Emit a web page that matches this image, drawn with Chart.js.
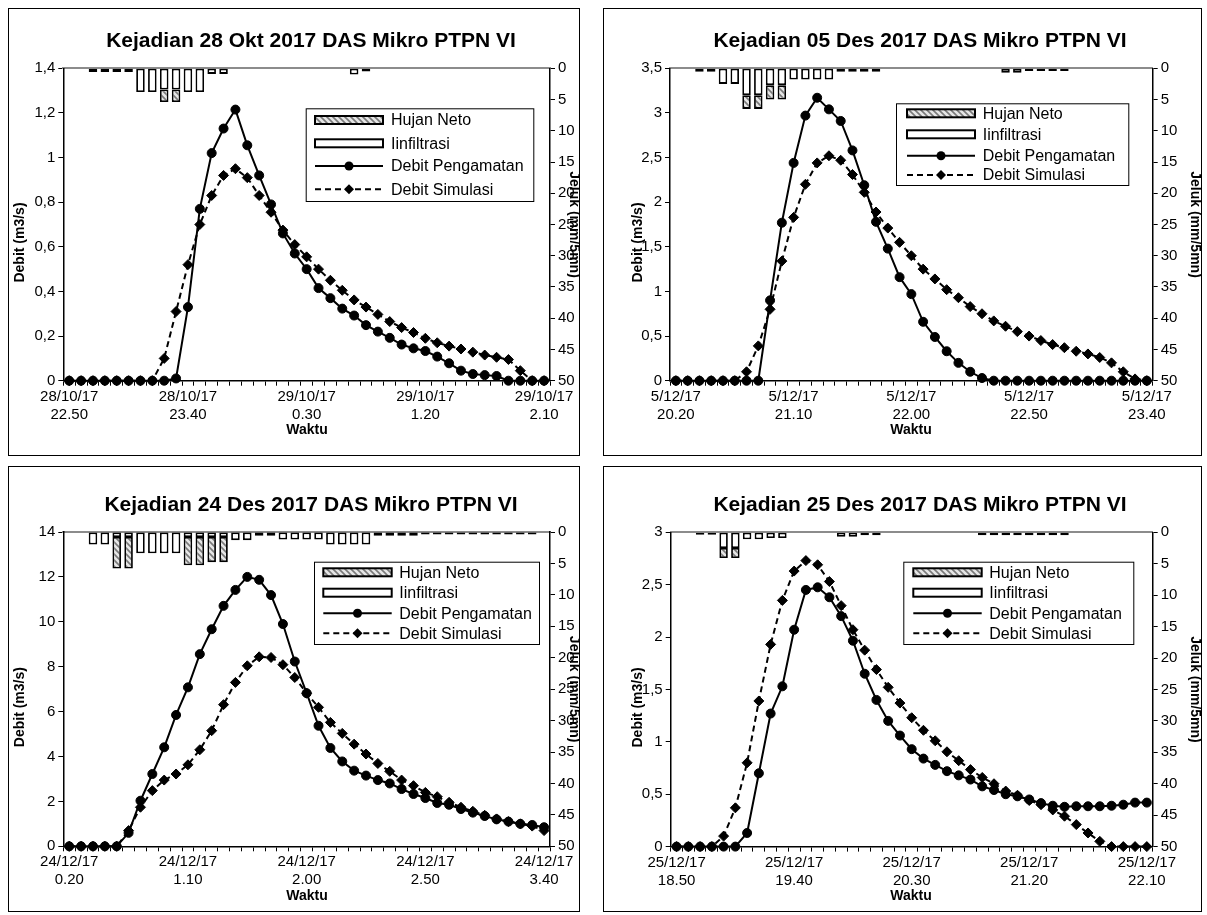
<!DOCTYPE html>
<html><head><meta charset="utf-8">
<script src="https://cdn.jsdelivr.net/npm/chart.js@4.4.1/dist/chart.umd.min.js"></script>
<style>
html,body{margin:0;padding:0;background:#fff;}
body{width:1207px;height:915px;position:relative;overflow:hidden;font-family:'Liberation Sans',Arial,sans-serif;}
.box{position:absolute;border:1px solid #000;box-sizing:border-box;pointer-events:none;}
canvas{position:absolute;}
</style></head><body>
<script>
// ---------------- DATA ----------------
const times1 = ["22.50","22.55","23.00","23.05","23.10","23.15","23.20","23.25","23.30","23.35","23.40","23.45","23.50","23.55","0.00","0.05","0.10","0.15","0.20","0.25","0.30","0.35","0.40","0.45","0.50","0.55","1.00","1.05","1.10","1.15","1.20","1.25","1.30","1.35","1.40","1.45","1.50","1.55","2.00","2.05","2.10"];
const tickDates1 = ["28/10/17","28/10/17","29/10/17","29/10/17","29/10/17"];
const tickTimes1 = ["22.50","23.40","0.30","1.20","2.10"];
const obs1 = [0,0,0,0,0,0,0,0,0,0.01,0.33,0.77,1.02,1.13,1.215,1.055,0.92,0.79,0.66,0.57,0.50,0.415,0.37,0.323,0.292,0.249,0.22,0.192,0.162,0.145,0.133,0.108,0.078,0.045,0.03,0.025,0.021,0,0,0,0];
const sim1 = [0,0,0,0,0,0,0,0,0.10,0.31,0.52,0.70,0.83,0.92,0.95,0.91,0.83,0.755,0.675,0.61,0.555,0.50,0.45,0.405,0.362,0.33,0.297,0.265,0.238,0.216,0.19,0.17,0.155,0.142,0.128,0.115,0.105,0.095,0.045,0,0];
const infil1 = [0,0,0.6,0.6,0.6,0.6,3.8,3.8,3.4,3.4,3.8,3.8,0.9,0.9,0,0,0,0,0,0,0,0,0,0,1.0,0.5,0,0,0,0,0,0,0,0,0,0,0,0,0,0,0];
const neto1 = [0,0,0,0,0,0,0,0,2.0,2.0,0,0,0,0,0,0,0,0,0,0,0,0,0,0,0,0,0,0,0,0,0,0,0,0,0,0,0,0,0,0,0];

const times2 = ["20.20","20.25","20.30","20.35","20.40","20.45","20.50","20.55","21.00","21.05","21.10","21.15","21.20","21.25","21.30","21.35","21.40","21.45","21.50","21.55","22.00","22.05","22.10","22.15","22.20","22.25","22.30","22.35","22.40","22.45","22.50","22.55","23.00","23.05","23.10","23.15","23.20","23.25","23.30","23.35","23.40"];
const tickDates2 = ["5/12/17","5/12/17","5/12/17","5/12/17","5/12/17"];
const tickTimes2 = ["20.20","21.10","22.00","22.50","23.40"];
const obs2 = [0,0,0,0,0,0,0,0,0.90,1.77,2.44,2.97,3.17,3.04,2.91,2.58,2.19,1.78,1.48,1.16,0.97,0.66,0.49,0.33,0.20,0.10,0.03,0,0,0,0,0,0,0,0,0,0,0,0,0,0];
const sim2 = [0,0,0,0,0,0,0.10,0.39,0.80,1.34,1.83,2.20,2.44,2.52,2.47,2.31,2.11,1.89,1.71,1.55,1.40,1.25,1.14,1.02,0.93,0.83,0.75,0.67,0.61,0.55,0.50,0.45,0.405,0.37,0.33,0.30,0.26,0.20,0.10,0.02,0];
const infil2 = [0,0,0.55,0.55,2.5,2.5,4.3,4.3,2.7,2.7,1.8,1.8,1.8,1.8,0.55,0.55,0.55,0.55,0,0,0,0,0,0,0,0,0,0,0.7,0.7,0.45,0.45,0.45,0.45,0,0,0,0,0,0,0];
const neto2 = [0,0,0,0,0,0,2.2,2.2,2.3,2.3,0,0,0,0,0,0,0,0,0,0,0,0,0,0,0,0,0,0,0,0,0,0,0,0,0,0,0,0,0,0,0];

const times3 = ["0.20","0.25","0.30","0.35","0.40","0.45","0.50","0.55","1.00","1.05","1.10","1.15","1.20","1.25","1.30","1.35","1.40","1.45","1.50","1.55","2.00","2.05","2.10","2.15","2.20","2.25","2.30","2.35","2.40","2.45","2.50","2.55","3.00","3.05","3.10","3.15","3.20","3.25","3.30","3.35","3.40"];
const tickDates3 = ["24/12/17","24/12/17","24/12/17","24/12/17","24/12/17"];
const tickTimes3 = ["0.20","1.10","2.00","2.50","3.40"];
const obs3 = [0,0,0,0,0,0.6,2.03,3.22,4.41,5.85,7.08,8.56,9.67,10.71,11.42,12.0,11.87,11.19,9.9,8.23,6.82,5.37,4.38,3.78,3.37,3.15,2.95,2.80,2.55,2.33,2.15,1.93,1.85,1.66,1.5,1.35,1.2,1.1,1.0,0.95,0.85];
const sim3 = [0,0,0,0,0,0.7,1.74,2.48,2.95,3.22,3.63,4.30,5.15,6.31,7.30,8.04,8.44,8.41,8.09,7.52,6.82,6.19,5.52,5.03,4.55,4.11,3.69,3.34,2.95,2.70,2.40,2.21,1.96,1.74,1.56,1.38,1.22,1.1,1.0,0.9,0.7];
const infil3 = [0,0,2.0,2.0,0.8,0.8,3.4,3.4,3.4,3.4,0.8,0.8,0.8,0.8,1.3,1.3,0.6,0.6,1.2,1.2,1.2,1.2,2.0,2.0,2.0,2.0,0.6,0.6,0.6,0.6,0.4,0.4,0.4,0.4,0.4,0.4,0.4,0.4,0.4,0.4,0];
const neto3 = [0,0,0,0,5.0,5.0,0,0,0,0,4.5,4.5,4.0,4.0,0,0,0,0,0,0,0,0,0,0,0,0,0,0,0,0,0,0,0,0,0,0,0,0,0,0,0];

const times4 = ["18.50","18.55","19.00","19.05","19.10","19.15","19.20","19.25","19.30","19.35","19.40","19.45","19.50","19.55","20.00","20.05","20.10","20.15","20.20","20.25","20.30","20.35","20.40","20.45","20.50","20.55","21.00","21.05","21.10","21.15","21.20","21.25","21.30","21.35","21.40","21.45","21.50","21.55","22.00","22.05","22.10"];
const tickDates4 = ["25/12/17","25/12/17","25/12/17","25/12/17","25/12/17"];
const tickTimes4 = ["18.50","19.40","20.30","21.20","22.10"];
const obs4 = [0,0,0,0,0,0,0.13,0.70,1.27,1.53,2.07,2.45,2.475,2.38,2.20,1.965,1.65,1.40,1.20,1.06,0.93,0.84,0.78,0.72,0.68,0.64,0.575,0.54,0.50,0.48,0.45,0.415,0.39,0.38,0.385,0.385,0.385,0.39,0.40,0.42,0.42];
const sim4 = [0,0,0,0,0.10,0.37,0.80,1.39,1.93,2.35,2.63,2.73,2.69,2.53,2.30,2.07,1.875,1.69,1.52,1.37,1.23,1.11,1.01,0.905,0.82,0.735,0.66,0.60,0.53,0.49,0.44,0.40,0.35,0.29,0.21,0.13,0.05,0,0,0,0];
const infil4 = [0,0,0.4,0.4,2.5,2.5,1.1,1.1,0.9,0.9,0,0,0,0,0.7,0.7,0.45,0.45,0,0,0,0,0,0,0,0,0.45,0.45,0.45,0.45,0.45,0.45,0.45,0.45,0,0,0,0,0,0,0];
const neto4 = [0,0,0,0,1.6,1.6,0,0,0,0,0,0,0,0,0,0,0,0,0,0,0,0,0,0,0,0,0,0,0,0,0,0,0,0,0,0,0,0,0,0,0];

const titles = ["Kejadian 28 Okt 2017 DAS Mikro PTPN VI","Kejadian 05 Des 2017 DAS Mikro PTPN VI","Kejadian 24 Des 2017 DAS Mikro PTPN VI","Kejadian 25 Des 2017 DAS Mikro PTPN VI"];
const legendLabels = ["Hujan Neto","Iinfiltrasi","Debit Pengamatan","Debit Simulasi"];

// ---------------- RENDER ----------------
const FONT = "'Liberation Sans', Arial, sans-serif";
Chart.defaults.font.family = FONT;
Chart.defaults.color = '#000';

function hatchPattern(ctx){
  const c = document.createElement('canvas'); c.width = 6; c.height = 6;
  const g = c.getContext('2d');
  g.fillStyle = '#e6e6e6'; g.fillRect(0,0,6,6);
  g.strokeStyle = '#7a7a7a'; g.lineWidth = 1.6;
  g.beginPath();
  g.moveTo(-1,-1); g.lineTo(7,7);
  g.moveTo(-4,2); g.lineTo(4,10);
  g.moveTo(2,-4); g.lineTo(10,4);
  g.stroke();
  return ctx.createPattern(c,'repeat');
}
const nz = a => a.map(v => v === 0 ? null : v);
const fmt = v => String(Math.round(v*10)/10).replace('.', ',');

const deco = {
  id: 'deco',
  afterDraw(chart, args, o){
    const ctx = chart.ctx, ox = o.box.x, oy = o.box.y;
    ctx.save();
    ctx.fillStyle = '#000';
    ctx.textAlign = 'center'; ctx.textBaseline = 'middle';
    ctx.font = `bold ${o.titleSize}px ${FONT}`;
    ctx.fillText(o.title, o.tx - ox, o.ty - oy);
    ctx.font = `bold ${o.axSize}px ${FONT}`;
    ctx.fillText('Waktu', o.wx - ox, o.wy - oy);
    ctx.save(); ctx.translate(o.yx - ox, o.yyL - oy); ctx.rotate(-Math.PI/2); ctx.fillText('Debit (m3/s)', 0, 0); ctx.restore();
    ctx.save(); ctx.translate(o.y2x - ox, o.yyR - oy); ctx.rotate(Math.PI/2); ctx.fillText('Jeluk (mm/5mn)', 0, 0); ctx.restore();
    // legend
    const L = o.legend;
    ctx.fillStyle = '#fff';
    ctx.fillRect(L.x - ox, L.y - oy, L.w, L.h);
    ctx.strokeStyle = '#000'; ctx.lineWidth = 1;
    ctx.strokeRect(L.x - ox + 0.5, L.y - oy + 0.5, L.w, L.h);
    const sx0 = L.sx0 - ox, sx1 = L.sx1 - ox, mid = (sx0 + sx1) / 2;
    const iy = L.items.map(v => v - oy);
    ctx.lineWidth = 2; ctx.strokeStyle = '#000';
    ctx.fillStyle = o.pattern; ctx.fillRect(sx0, iy[0]-4, sx1-sx0, 8); ctx.strokeRect(sx0, iy[0]-4, sx1-sx0, 8);
    ctx.fillStyle = '#fff'; ctx.fillRect(sx0, iy[1]-4, sx1-sx0, 8); ctx.strokeRect(sx0, iy[1]-4, sx1-sx0, 8);
    ctx.beginPath(); ctx.moveTo(sx0, iy[2]); ctx.lineTo(sx1, iy[2]); ctx.stroke();
    ctx.fillStyle = '#000'; ctx.beginPath(); ctx.arc(mid, iy[2], 4.5, 0, Math.PI*2); ctx.fill();
    ctx.setLineDash([6,4]); ctx.beginPath(); ctx.moveTo(sx0, iy[3]); ctx.lineTo(sx1, iy[3]); ctx.stroke(); ctx.setLineDash([]);
    ctx.beginPath(); ctx.moveTo(mid, iy[3]-5); ctx.lineTo(mid+5, iy[3]); ctx.lineTo(mid, iy[3]+5); ctx.lineTo(mid-5, iy[3]); ctx.closePath(); ctx.fill();
    ctx.fillStyle = '#000'; ctx.textAlign = 'left'; ctx.textBaseline = 'middle';
    ctx.font = `${o.legSize}px ${FONT}`;
    legendLabels.forEach((t, i) => ctx.fillText(t, L.tx - ox, iy[i] + 1));
    ctx.restore();
  }
};

const panels = [
  {times: times1, td: tickDates1, tt: tickTimes1, obs: obs1, sim: sim1, infil: infil1, neto: neto1, title: titles[0], ymax: 1.4, ystep: 0.2,
   box: {x:8, y:8, w:572, h:448}, area: {l:63.3, t:68.3, r:550, b:380.7},
   tx: 311, ty: 41, wx: 307, wy: 430, yx: 20, y2x: 574,
   legend: {x:305.7, y:108.3, w:227.6, h:92.7, items:[120,143.3,166,189.3], sx0:315, sx1:383, tx:391}},
  {times: times2, td: tickDates2, tt: tickTimes2, obs: obs2, sim: sim2, infil: infil2, neto: neto2, title: titles[1], ymax: 3.5, ystep: 0.5,
   box: {x:603, y:8, w:599, h:448}, area: {l:670, t:68.3, r:1152.7, b:380.7},
   tx: 920, ty: 41, wx: 911, wy: 430, yx: 638, y2x: 1195,
   legend: {x:896, y:103.3, w:232.3, h:81.7, items:[113.3,134.3,155.7,175], sx0:907, sx1:975, tx:982.7}},
  {times: times3, td: tickDates3, tt: tickTimes3, obs: obs3, sim: sim3, infil: infil3, neto: neto3, title: titles[2], ymax: 14, ystep: 2,
   box: {x:8, y:466, w:572, h:446}, area: {l:63.3, t:532, r:550, b:846.3},
   tx: 311, ty: 505, wx: 307, wy: 896, yx: 20, y2x: 574,
   legend: {x:314, y:561.7, w:225, h:82.3, items:[572.3,592.7,613.3,633.3], sx0:323.3, sx1:391.7, tx:399.3}},
  {times: times4, td: tickDates4, tt: tickTimes4, obs: obs4, sim: sim4, infil: infil4, neto: neto4, title: titles[3], ymax: 3, ystep: 0.5,
   box: {x:603, y:466, w:599, h:446}, area: {l:670.7, t:532.3, r:1152.7, b:846.6},
   tx: 920, ty: 505, wx: 911, wy: 896, yx: 638, y2x: 1195,
   legend: {x:903.3, y:561.7, w:230, h:82.3, items:[572.3,592.7,613.3,633.3], sx0:913.3, sx1:981.7, tx:989.3}}
];

const WY = 50, WY2 = 26, HX = 42;
panels.forEach(p => {
  const b = p.box, a = p.area;
  const frame = document.createElement('div'); frame.className = 'box';
  Object.assign(frame.style, {left: b.x+'px', top: b.y+'px', width: b.w+'px', height: b.h+'px'});
  const cv = document.createElement('canvas');
  cv.width = b.w; cv.height = b.h;
  Object.assign(cv.style, {left: b.x+'px', top: b.y+'px', width: b.w+'px', height: b.h+'px'});
  document.body.appendChild(cv); document.body.appendChild(frame);
  const ctx = cv.getContext('2d');
  const pat = hatchPattern(ctx);
  const tickFont = {size: 15, family: FONT};
  new Chart(ctx, {
    type: 'bar',
    data: {
      labels: p.times,
      datasets: [
        {type:'bar', label: legendLabels[1], data: nz(p.infil), yAxisID:'y2', xAxisID:'x', stack:'r',
         backgroundColor:'#fff', borderColor:'#000', borderWidth:1.8, borderSkipped:false,
         barPercentage:0.72, categoryPercentage:1, order:2},
        {type:'bar', label: legendLabels[0], data: nz(p.neto), yAxisID:'y2', xAxisID:'x', stack:'r',
         backgroundColor: pat, borderColor:'#000', borderWidth:1.8, borderSkipped:false,
         barPercentage:0.72, categoryPercentage:1, order:2},
        {type:'line', label: legendLabels[2], data: p.obs, yAxisID:'y', xAxisID:'x',
         borderColor:'#000', borderWidth:2, pointStyle:'circle', pointRadius:4.5,
         pointBackgroundColor:'#000', pointBorderColor:'#000', pointBorderWidth:1, tension:0, clip:false, order:0},
        {type:'line', label: legendLabels[3], data: p.sim, yAxisID:'y', xAxisID:'x',
         borderColor:'#000', borderWidth:2, borderDash:[6,4], pointStyle:'rectRot', pointRadius:5,
         pointBackgroundColor:'#000', pointBorderColor:'#000', pointBorderWidth:1, tension:0, clip:false, order:1}
      ]
    },
    options: {
      responsive:false, animation:false, devicePixelRatio:1, events:[],
      layout: {padding: {left: a.l - b.x - WY, right: (b.x + b.w) - a.r - WY2, top: a.t - b.y, bottom: (b.y + b.h) - a.b - HX}},
      plugins: {legend:{display:false}, tooltip:{enabled:false}, title:{display:false},
        deco: {box: b, title: p.title, tx: p.tx, ty: p.ty, wx: p.wx, wy: p.wy, yx: p.yx, y2x: p.y2x,
               yyL: (a.t + a.b)/2 + 18, yyR: (a.t + a.b)/2,
               legend: p.legend, pattern: pat, titleSize: 21, axSize: 14, legSize: 16}},
      scales: {
        x: {type:'category', position:'bottom', stacked:true, offset:true,
            grid:{display:true, drawOnChartArea:false, drawTicks:true, tickLength:5, color:'#000', lineWidth:1, offset:true},
            border:{display:true, color:'#000', width:1.5},
            ticks:{autoSkip:false, maxRotation:0, minRotation:0, padding:2, font: tickFont, color:'#000',
                   callback: (v, i) => (i % 10 === 0) ? [p.td[i/10], p.tt[i/10]] : ''},
            afterFit: s => { s.height = HX; }},
        x2: {type:'category', position:'top', offset:true, grid:{display:false}, ticks:{display:false},
             border:{display:true, color:'#8c8c8c', width:2}, afterFit: s => { s.height = 0; }},
        y: {position:'left', min:0, max:p.ymax, stacked:false,
            grid:{display:true, drawOnChartArea:false, drawTicks:true, tickLength:5, color:'#000', lineWidth:1},
            border:{display:true, color:'#000', width:1.5},
            ticks:{stepSize:p.ystep, padding:3, font: tickFont, color:'#000', callback: v => fmt(v)},
            afterFit: s => { s.width = WY; }},
        y2: {position:'right', min:0, max:50, reverse:true, stacked:true,
             grid:{display:true, drawOnChartArea:false, drawTicks:true, tickLength:5, color:'#000', lineWidth:1},
             border:{display:true, color:'#000', width:1.5},
             ticks:{stepSize:5, padding:3, font: tickFont, color:'#000', callback: v => String(v)},
             afterFit: s => { s.width = WY2; }}
      }
    },
    plugins: [deco]
  });
});
</script>
</body></html>
